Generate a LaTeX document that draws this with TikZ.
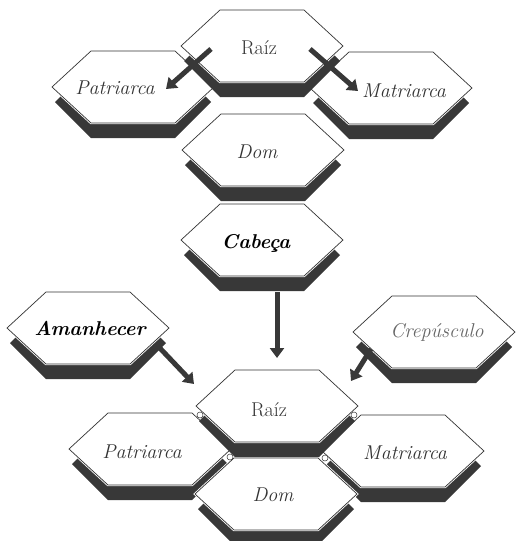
\documentclass[tikz,border=0pt]{standalone}
\usepackage{fontspec}
\usepackage{tikz}
\usetikzlibrary{arrows.meta}
\definecolor{prismgray}{HTML}{383838}
\definecolor{inkgray}{HTML}{333333}
\newcommand{\prism}{\fill[prismgray] (-78,15) -- (-42,-21) -- (42,-21) -- (78,15) -- (42,51) -- (-42,51) -- cycle;
					\draw[white, line width = 2.4pt, fill = white] (-81,0) -- (-42,-36) -- (42,-36) -- (81,0) -- (42,36) -- (-42,36) -- cycle;
					\draw[inkgray, line width = 0.7pt] (-81,0) -- (-42,-36) -- (42,-36) -- (81,0) -- (42,36) -- (-42,36) -- cycle;}
\newcommand{\joint}{\draw[inkgray, fill = white, line width = 0.5pt] (0,0) circle (3pt);}
\tikzset{
	rootname/.style = {font = \fontsize{20}{23}\selectfont, text = inkgray},
	kinname/.style = {font = \fontsize{20}{23}\selectfont\itshape, text = inkgray},
	boldname/.style = {font = \fontsize{20}{23}\selectfont\bfseries\itshape, text = black},
	dimname/.style = {font = \fontsize{20}{23}\selectfont\itshape, text = black!60},
	flow/.style = {prismgray, line width = 5pt, -{Triangle[width = 14pt, length = 10pt]}}
}

\begin{document}
\begin{tikzpicture}[x = 1pt, y = -1pt]
					\useasboundingbox (0,0) rectangle (515,541);

					% upper group
					\begin{scope}[shift = {(133,87)}]
						\prism
						\node[kinname] (patriarcaA) at (-18,1) {Patriarca};
					\end{scope}

					\begin{scope}[shift = {(391,88)}]
						\prism
						\node[kinname] (matriarcaA) at (13,3) {Matriarca};
					\end{scope}

					\begin{scope}[shift = {(262,46)}]
						\prism
						\node[rootname] (raizA) at (-3,2) {Raíz};
					\end{scope}

					\begin{scope}[shift = {(263,150)}]
						\prism
						\node[kinname] (domA) at (-6,2) {Dom};
					\end{scope}

					\begin{scope}[shift = {(262,240)}]
						\prism
						\node[boldname] (cabeca) at (-6,3) {Cabeça};
					\end{scope}

					\begin{scope}[shift = {(88,328)}]
						\prism
						\node[boldname] (amanhecer) at (2,0) {Amanhecer};
					\end{scope}

					\begin{scope}[shift = {(434,332)}]
						\prism
						\node[dimname] (crepusculo) at (3,0) {Crepúsculo};
					\end{scope}

					% lower group
					\begin{scope}[shift = {(150,449)}]
						\prism
						\node[kinname] (patriarcaB) at (-8,3) {Patriarca};
					\end{scope}

					\begin{scope}[shift = {(403,451)}]
						\prism
						\node[kinname] (matriarcaB) at (2,2) {Matriarca};
					\end{scope}

					\begin{scope}[shift = {(276,494)}]
						\prism
						\node[kinname] (domB) at (-3,1) {Dom};
					\end{scope}

					\begin{scope}[shift = {(277,406)}]
						\prism
						\node[rootname] (raizB) at (-8,4) {Raíz};
					\end{scope}

					\begin{scope}[shift = {(200,415)}]
						\joint
					\end{scope}
					\begin{scope}[shift = {(354,415)}]
						\joint
					\end{scope}
					\begin{scope}[shift = {(230,457)}]
						\joint
					\end{scope}
					\begin{scope}[shift = {(325,458)}]
						\joint
					\end{scope}

					% arrows
					\coordinate (raizA-l) at (211,49);
					\coordinate (patriarcaA-in) at (166,89);
					\coordinate (raizA-r) at (310,49);
					\coordinate (matriarcaA-in) at (358,91);
					\coordinate (cabeca-out) at (277,292);
					\coordinate (raizB-top) at (277,358);
					\coordinate (amanhecer-out) at (156,344);
					\coordinate (raizB-l) at (194,384);
					\coordinate (crepusculo-out) at (371,349);
					\coordinate (raizB-r) at (351,381);

					\draw[flow] (raizA-l) -- (patriarcaA-in);
					\draw[flow] (raizA-r) -- (matriarcaA-in);
					\draw[flow] (cabeca-out) -- (raizB-top);
					\draw[flow] (amanhecer-out) -- (raizB-l);
					\draw[flow] (crepusculo-out) -- (raizB-r);

\end{tikzpicture}
\end{document}
